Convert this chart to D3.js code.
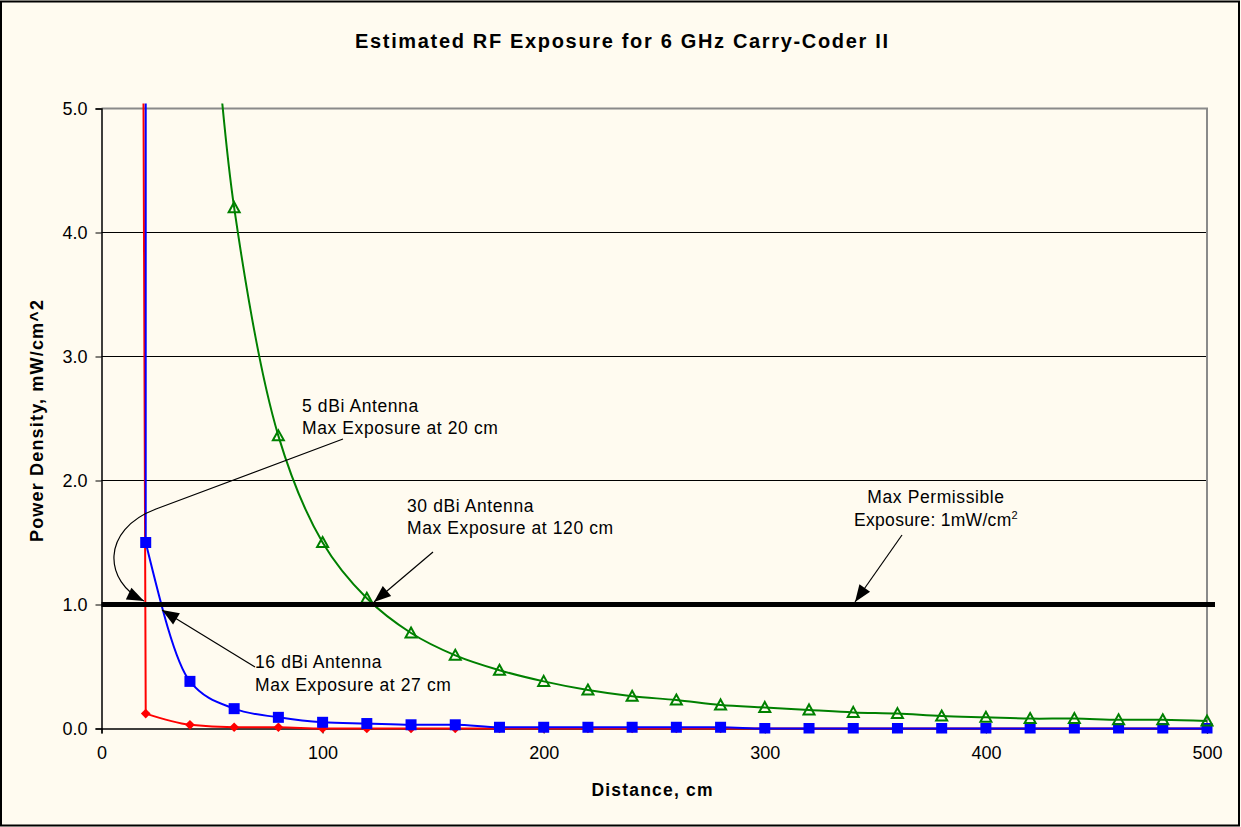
<!DOCTYPE html>
<html>
<head>
<meta charset="utf-8">
<script src="https://cdn.jsdelivr.net/npm/d3@7"></script>
<style>
  html, body { margin: 0; padding: 0; background: #FFFBF0; }
  svg { display: block; }
  text { font-family: "Liberation Sans", Arial, sans-serif; fill: #000; }
</style>
</head>
<body>
<svg id="chart" width="1241" height="827"></svg>
<script>
// ---------------- data ----------------
const title = "Estimated RF Exposure for 6 GHz Carry-Coder II";
const xTitle = "Distance, cm";
const yTitle = "Power Density, mW/cm^2";

const distances = [20,40,60,80,100,120,140,160,180,200,220,240,260,280,300,320,340,360,380,400,420,440,460,480,500];
const dbi5  = [0.12,0.03,0.01,0.01,0,0,0,0,0,0,0,0,0,0,0,0,0,0,0,0,0,0,0,0,0];
const dbi16 = [1.5,0.38,0.16,0.09,0.05,0.04,0.03,0.03,0.01,0.01,0.01,0.01,0.01,0.01,0,0,0,0,0,0,0,0,0,0,0];
const dbi30 = [null,null,4.2,2.36,1.5,1.05,0.77,0.59,0.47,0.38,0.31,0.26,0.23,0.19,0.17,0.15,0.13,0.12,0.10,0.09,0.08,0.08,0.07,0.07,0.06];
// near-field values just left of the first plotted point (off the top of the chart)
const lead5  = [18.8, 6.0];
const lead16 = [20, 6.0];
const lead30 = [50, 6.0];
const mpeLimit = 1.0;

const xTicks = [0,100,200,300,400,500];
const yTicks = [0,1,2,3,4,5];

// ---------------- layout ----------------
const W = 1241, H = 827;
const plot = { left: 101.5, right: 1207, top: 108.5, bottom: 728.5 };

const svg = d3.select("#chart");
svg.append("rect").attr("x", 1).attr("y", 1.5).attr("width", W - 3).attr("height", H - 3)
  .attr("fill", "#FFFBF0").attr("stroke", "#000").attr("stroke-width", 2);

const x = d3.scaleLinear().domain([0, 500]).range([plot.left, plot.right]);
const y = d3.scaleLinear().domain([0, 5]).range([plot.bottom, plot.top]);

// gridlines
svg.append("g").selectAll("line").data(yTicks.filter(d => d > 0 && d < 5)).join("line")
  .attr("x1", plot.left).attr("x2", plot.right)
  .attr("y1", d => y(d)).attr("y2", d => y(d))
  .attr("stroke", "#000").attr("stroke-width", 1);

// plot border top/right (gray)
svg.append("path")
  .attr("d", `M${plot.left},${y(5)} H${plot.right} V${plot.bottom}`)
  .attr("fill", "none").attr("stroke", "#8a8a8a").attr("stroke-width", 2);

// axes
const yAxis = d3.axisLeft(y).tickValues(yTicks).tickSize(6).tickPadding(8).tickFormat(d3.format(".1f"));
const gy = svg.append("g").attr("transform", `translate(${plot.left},0)`).call(yAxis);
gy.select(".domain").attr("stroke", "#000").attr("stroke-width", 1.5);
gy.selectAll(".tick line").attr("stroke", "#000");
gy.selectAll(".tick text").style("font-size", "18px").style("font-family", "Liberation Sans, Arial, sans-serif").attr("fill", "#000");

const xAxis = d3.axisBottom(x).tickValues(xTicks).tickSize(5).tickPadding(13).tickFormat(d3.format("d"));
const gx = svg.append("g").attr("transform", `translate(0,${plot.bottom})`).call(xAxis);
gx.select(".domain").attr("stroke", "#000").attr("stroke-width", 1.5);
gx.selectAll(".tick line").attr("stroke", "#000");
gx.selectAll(".tick text").style("font-size", "18px").style("font-family", "Liberation Sans, Arial, sans-serif").attr("fill", "#000");

// titles
svg.append("text").attr("x", 621.5).attr("y", 48).attr("text-anchor", "middle")
  .attr("textLength", 533).attr("lengthAdjust", "spacing")
  .style("font-size", "20px").style("font-weight", "bold").text(title);
svg.append("text").attr("x", 652).attr("y", 796).attr("text-anchor", "middle")
  .attr("textLength", 121).attr("lengthAdjust", "spacing")
  .style("font-size", "17.5px").style("font-weight", "bold").text(xTitle);
svg.append("text").attr("transform", "translate(43,421) rotate(-90)").attr("text-anchor", "middle")
  .attr("textLength", 242).attr("lengthAdjust", "spacing")
  .style("font-size", "18px").style("font-weight", "bold").text(yTitle);

// clip for series
svg.append("clipPath").attr("id", "clip").append("rect")
  .attr("x", plot.left).attr("y", plot.top - 5).attr("width", plot.right - plot.left + 8).attr("height", plot.bottom - plot.top + 10);

const straight = d3.line().x(d => x(d[0])).y(d => y(d[1]));
const smoothCR = d3.line().x(d => x(d[0])).y(d => y(d[1])).curve(d3.curveCatmullRom.alpha(0.5));
const smoothMono = d3.line().x(d => x(d[0])).y(d => y(d[1])).curve(d3.curveMonotoneX);
function marks(arr) {
  return distances.map((d, i) => [d, arr[i]]).filter(p => p[1] != null);
}
const gSeries = svg.append("g").attr("clip-path", "url(#clip)");

function drawSeries(arr, lead, color, leadStraight) {
  const m = marks(arr);
  let d;
  if (leadStraight) {
    d = straight([lead, m[0]]) + " " + smoothMono(m).replace(/^M/, "L");
  } else {
    d = smoothCR([lead].concat(m));
  }
  gSeries.append("path").attr("d", d)
    .attr("fill", "none").attr("stroke", color).attr("stroke-width", 2);
  return m;
}

// 5 dBi (red, diamonds)
const m5 = drawSeries(dbi5, lead5, "#FF0000", true);
gSeries.append("g").selectAll("path").data(m5).join("path")
  .attr("d", d3.symbol(d3.symbolDiamond2, 60))
  .attr("transform", d => `translate(${x(d[0])},${y(d[1])})`)
  .attr("fill", "#FF0000");

// 16 dBi (blue, squares)
const m16 = drawSeries(dbi16, lead16, "#0000FF", true);
gSeries.append("g").selectAll("rect").data(m16).join("rect")
  .attr("x", d => x(d[0]) - 5.5).attr("y", d => y(d[1]) - 5.5)
  .attr("width", 11).attr("height", 11).attr("fill", "#0000FF");

// 30 dBi (green, open triangles)
const m30 = drawSeries(dbi30, lead30, "#008000", false);
gSeries.append("g").selectAll("path").data(m30).join("path")
  .attr("d", "M0,-5.5 L5.5,4.5 L-5.5,4.5 Z")
  .attr("transform", d => `translate(${x(d[0])},${y(d[1])})`)
  .attr("fill", "none").attr("stroke", "#008000").attr("stroke-width", 2);

// Max permissible exposure line
svg.append("line").attr("x1", plot.left).attr("x2", plot.right + 8)
  .attr("y1", y(mpeLimit)).attr("y2", y(mpeLimit))
  .attr("stroke", "#000").attr("stroke-width", 5);

// arrow marker
svg.append("defs").append("marker").attr("id", "arrow")
  .attr("markerUnits", "userSpaceOnUse").attr("viewBox", "-18 -8 20 16")
  .attr("refX", 0).attr("refY", 0).attr("markerWidth", 20).attr("markerHeight", 16)
  .attr("orient", "auto")
  .append("path").attr("d", "M0,0 L-17,-6.5 L-17,6.5 Z").attr("fill", "#000");

// annotations
const annFont = "17.5px";
function label(lines, xPos, yPos, anchor) {
  const t = svg.append("text").attr("text-anchor", anchor || "start").style("font-size", annFont).style("letter-spacing", "0.6px");
  lines.forEach((l, i) => {
    t.append("tspan").attr("x", xPos).attr("y", yPos + i * 22.5).text(l);
  });
  return t;
}
label(["5 dBi Antenna", "Max Exposure at 20 cm"], 302, 411.5);
label(["30 dBi Antenna", "Max Exposure at 120 cm"], 407, 511.5);
label(["16 dBi Antenna", "Max Exposure at 27 cm"], 255, 668);
label(["Max Permissible"], 936, 503, "middle");
const t2 = svg.append("text").attr("x", 936).attr("y", 525.5).attr("text-anchor", "middle").style("font-size", annFont).style("letter-spacing", "0.3px");
t2.append("tspan").text("Exposure: 1mW/cm");
t2.append("tspan").attr("dy", -7).style("font-size", "11px").text("2");

function arrow(d) {
  svg.append("path").attr("d", d).attr("fill", "none").attr("stroke", "#000").attr("stroke-width", 1.2)
    .attr("marker-end", "url(#arrow)");
}
arrow("M343,439 L156,509 C100,530 104,582 144,601");
arrow("M433,552 L374,602");
arrow("M255,667 L162,610");
arrow("M902,535 L855,602");
</script>
</body>
</html>
